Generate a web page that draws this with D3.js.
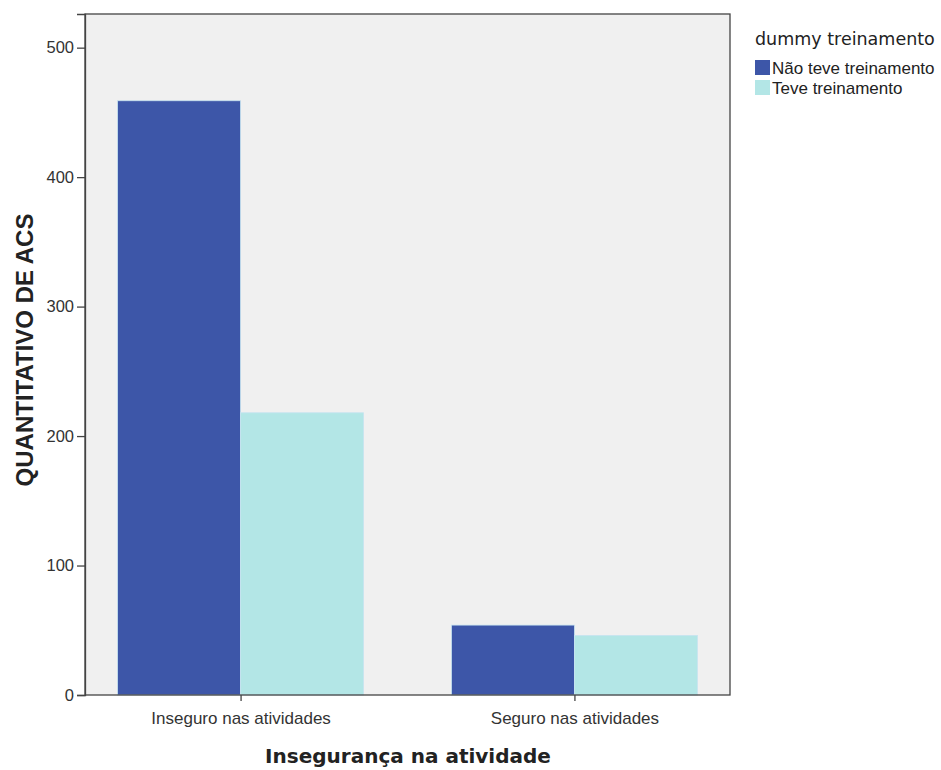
<!DOCTYPE html>
<html>
<head>
<meta charset="utf-8">
<script src="https://cdnjs.cloudflare.com/ajax/libs/d3/7.8.5/d3.min.js"></script>
<style>
body { margin: 0; background: #fff; }
</style>
</head>
<body>
<div id="the_chart"></div>
<script>
var categories = ["Inseguro nas atividades", "Seguro nas atividades"];
var series = ["Não teve treinamento", "Teve treinamento"];
var naoTeve = [459, 54];
var teve = [218, 46];
var yTicks = [0, 100, 200, 300, 400, 500];
var colors = ["#3d56a8", "#b3e6e6"];

var w = 941, h = 770;
var pLeft = 85, pRight = 730, pTop = 14, pBottom = 695;

var svg = d3.select("#the_chart").append("svg")
	.attr("width", w)
	.attr("height", h);

var yscale = d3.scaleLinear()
	.domain([0, 526])
	.range([pBottom, pTop]);

var xscale = d3.scalePoint()
	.domain(categories)
	.range([pLeft, pRight])
	.padding(0.466);

var barW = 123;
var x1 = d3.scaleBand()
	.domain(series)
	.range([-barW, barW]);

// plot background
svg.append("rect")
	.attr("x", pLeft).attr("y", pTop)
	.attr("width", pRight - pLeft).attr("height", pBottom - pTop)
	.attr("fill", "#f0f0f0");

var rows = categories.map(function (c, i) {
	return { cat: c, vals: [naoTeve[i], teve[i]] };
});

var g = svg.selectAll(".grp")
	.data(rows)
	.enter().append("g")
	.attr("class", "grp")
	.attr("transform", function (d) { return "translate(" + xscale(d.cat) + ",0)"; });

g.selectAll("rect")
	.data(function (d) { return d.vals.map(function (v, j) { return { s: series[j], v: v, j: j }; }); })
	.enter().append("rect")
	.attr("x", function (d) { return x1(d.s); })
	.attr("width", x1.bandwidth())
	.attr("y", function (d) { return yscale(d.v); })
	.attr("height", function (d) { return pBottom - yscale(d.v); })
	.attr("fill", function (d) { return colors[d.j]; })
	.attr("stroke", "#c8e4f0")
	.attr("stroke-width", 0.8);

// frame
svg.append("rect")
	.attr("x", pLeft).attr("y", pTop)
	.attr("width", pRight - pLeft).attr("height", pBottom - pTop)
	.attr("fill", "none")
	.attr("stroke", "#444")
	.attr("stroke-width", 1.3);

var yaxis = d3.axisLeft(yscale)
	.tickValues(yTicks)
	.tickSize(8)
	.tickPadding(3);

var ya = svg.append("g")
	.attr("transform", "translate(" + pLeft + ",0)")
	.call(yaxis);
ya.select(".domain").attr("stroke", "#444").attr("stroke-width", 1.3);
ya.selectAll(".tick line").attr("stroke", "#444").attr("stroke-width", 1.3);
ya.selectAll("text")
	.attr("font-family", "Liberation Sans, Arial, sans-serif")
	.attr("font-size", 16.5)
	.attr("fill", "#333");

var xaxis = d3.axisBottom(xscale)
	.tickSize(6)
	.tickPadding(11);

var xa = svg.append("g")
	.attr("transform", "translate(0," + pBottom + ")")
	.call(xaxis);
xa.select(".domain").remove();
xa.selectAll(".tick line").attr("stroke", "#444").attr("stroke-width", 1.3);
xa.selectAll("text")
	.attr("font-family", "Liberation Sans, Arial, sans-serif")
	.attr("font-size", 17)
	.attr("fill", "#333");

// axis titles
svg.append("text")
	.attr("transform", "translate(33," + 350 + ") rotate(-90)")
	.attr("text-anchor", "middle")
	.attr("font-family", "Liberation Sans, Arial, sans-serif")
	.attr("font-weight", "bold")
	.attr("font-size", 24)
	.attr("fill", "#222")
	.text("QUANTITATIVO DE ACS");

svg.append("text")
	.attr("x", 408)
	.attr("y", 763)
	.attr("text-anchor", "middle")
	.attr("font-family", "DejaVu Sans, sans-serif")
	.attr("font-weight", "bold")
	.attr("font-size", 20)
	.attr("fill", "#222")
	.text("Insegurança na atividade");

// legend
svg.append("text")
	.attr("x", 755)
	.attr("y", 45)
	.attr("font-family", "DejaVu Sans, sans-serif")
	.attr("font-size", 17.5)
	.attr("fill", "#222")
	.text("dummy treinamento");

var lg = svg.selectAll(".leg")
	.data(series)
	.enter().append("g")
	.attr("class", "leg")
	.attr("transform", function (d, i) { return "translate(755," + (60 + i * 20) + ")"; });

lg.append("rect")
	.attr("width", 15).attr("height", 15)
	.attr("fill", function (d, i) { return colors[i]; });

lg.append("text")
	.attr("x", 17)
	.attr("y", 14)
	.attr("font-family", "Liberation Sans, Arial, sans-serif")
	.attr("font-size", 17)
	.attr("fill", "#222")
	.text(function (d) { return d; });
</script>
</body>
</html>
